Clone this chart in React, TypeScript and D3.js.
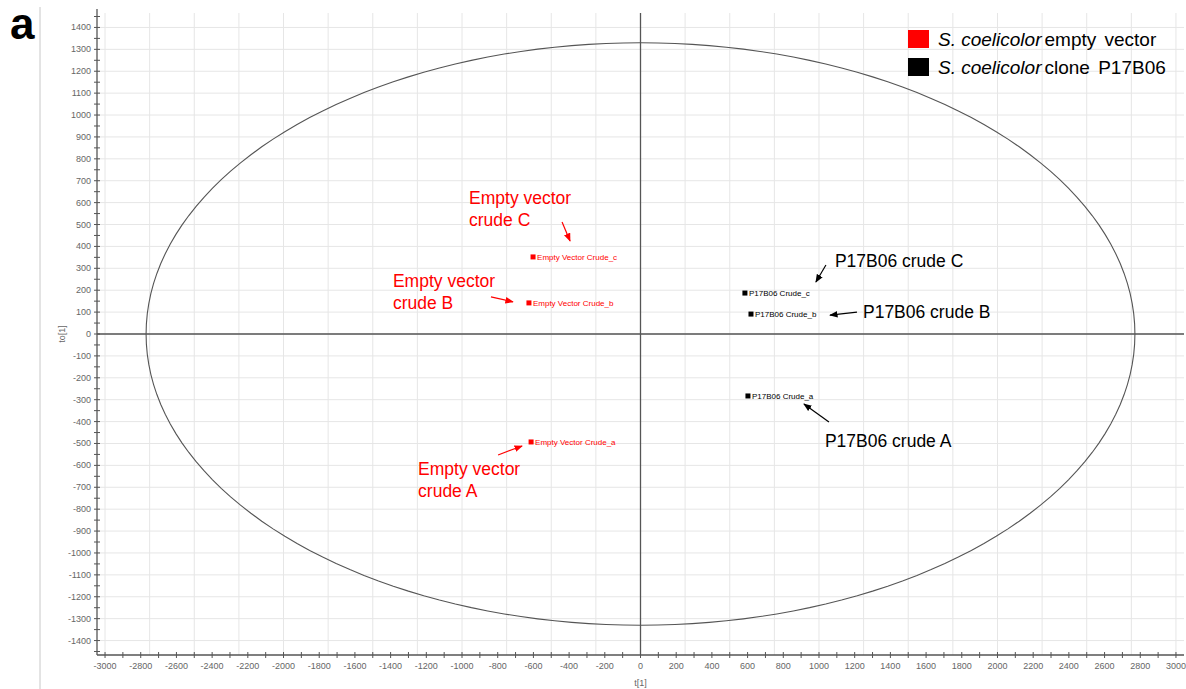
import React from "react";
import * as d3 from "d3";

// scores
const sampleNames = [
  "Empty Vector Crude_a",
  "Empty Vector Crude_b",
  "Empty Vector Crude_c",
  "P17B06 Crude_a",
  "P17B06 Crude_b",
  "P17B06 Crude_c",
];
const t1 = [-613, -625, -602, 602, 619, 585];
const to1 = [-493, 142, 352, -283, 91, 187];
const sampleGroup = [0, 0, 0, 1, 1, 1];

const groupNames = ["empty vector", "clone P17B06"];
const groupColors = ["#ff0000", "#000000"];

const calloutLines = [
  ["Empty vector", "crude A"],
  ["Empty vector", "crude B"],
  ["Empty vector", "crude C"],
  ["P17B06 crude A"],
  ["P17B06 crude B"],
  ["P17B06 crude C"],
];

// Hotelling T2 ellipse half-axes
const ellipseA = 2770;
const ellipseB = 1330;

const xLabelTicks = d3.range(-3000, 3001, 200);
const xMinorTicks = d3.range(-3000, 3001, 100);
const xGrid = d3.range(-3000, 3001, 250);
const yLabelTicks = d3.range(-1400, 1401, 100);
const yMinorTicks = d3.range(-1450, 1451, 50);

// callout placement relative to the marker (px): text, arrow start, arrow end
const calloutLayout = [
  { dx: -113, dy: 33, ax: -33, ay: 13, bx: -9, by: 4 },
  { dx: -136, dy: -16, ax: -38, ay: -6, bx: -16, by: -1 },
  { dx: -64, dy: -53, ax: 29, ay: -35, bx: 37, by: -16 },
  { dx: 77, dy: 51, ax: 81, ay: 26, bx: 56, by: 8 },
  { dx: 112, dy: 4, ax: 106, ay: -2, bx: 79, by: 1 },
  { dx: 90, dy: -26, ax: 81, ay: -28, bx: 71, by: -11 },
];

const W = 1186;
const H = 689;
const left = 97;
const right = 1184;
const top = 13;
const bottom = 655;

export default function App() {
  const x = d3.scaleLinear().domain([-3045, 3045]).range([left, right]);
  const y = d3.scaleLinear().domain([-1466, 1466]).range([bottom, top]);

  const ellipsePts = d3.range(0, 361, 2).map((a) => {
    const r = (a * Math.PI) / 180;
    return [x(ellipseA * Math.cos(r)), y(ellipseB * Math.sin(r))] as [number, number];
  });
  const ellipsePath = d3.line()(ellipsePts) || "";

  const font = "Arial, 'Liberation Sans', sans-serif";
  const tickColor = "#666";

  return (
    <svg
      width={W}
      height={H}
      style={{ position: "absolute", left: 0, top: 0, background: "#fff" }}
      fontFamily={font}
    >
      <defs>
        {groupColors.map((c, i) => (
          <marker
            key={i}
            id={`arrow${i}`}
            viewBox="0 0 10 10"
            refX="9"
            refY="5"
            markerWidth="7"
            markerHeight="7"
            orient="auto"
          >
            <path d="M0,1 L10,5 L0,9 z" fill={c} />
          </marker>
        ))}
      </defs>

      {/* panel letter and frame line */}
      <text x={10} y={39} fontSize={44} fontWeight="bold" fill="#000">
        a
      </text>
      <line x1={40} x2={40} y1={7} y2={H} stroke="#c8c8c8" strokeWidth={1} />

      {/* grid */}
      {yLabelTicks.map((v) => (
        <line key={"hg" + v} x1={left} x2={right} y1={y(v)} y2={y(v)} stroke="#e6e6e6" />
      ))}
      {xGrid.map((v) => (
        <line key={"vg" + v} x1={x(v)} x2={x(v)} y1={top} y2={bottom} stroke="#e6e6e6" />
      ))}

      {/* zero lines */}
      <line x1={left} x2={right} y1={y(0)} y2={y(0)} stroke="#555" strokeWidth={1.3} />
      <line x1={x(0)} x2={x(0)} y1={top} y2={bottom} stroke="#555" strokeWidth={1.3} />

      {/* ellipse */}
      <path d={ellipsePath} fill="none" stroke="#555" strokeWidth={1.1} />

      {/* axes */}
      <line x1={left} x2={left} y1={top - 4} y2={bottom} stroke="#555" strokeWidth={1.3} />
      <line x1={left} x2={right} y1={bottom} y2={bottom} stroke="#555" strokeWidth={1.3} />
      {yMinorTicks.map((v) => (
        <line key={"yt" + v} x1={left - 3} x2={left + 3} y1={y(v)} y2={y(v)} stroke="#555" />
      ))}
      {yLabelTicks.map((v) => (
        <text
          key={"yl" + v}
          x={left - 6}
          y={y(v) + 3}
          fontSize={9}
          textAnchor="end"
          fill={tickColor}
        >
          {v}
        </text>
      ))}
      {xMinorTicks.map((v) => (
        <line key={"xt" + v} x1={x(v)} x2={x(v)} y1={bottom - 3} y2={bottom + 3} stroke="#555" />
      ))}
      {xLabelTicks.map((v) => (
        <text
          key={"xl" + v}
          x={x(v)}
          y={bottom + 14}
          fontSize={9}
          textAnchor="middle"
          fill={tickColor}
        >
          {v}
        </text>
      ))}
      <text x={x(0)} y={686} fontSize={9} textAnchor="middle" fill={tickColor}>
        t[1]
      </text>
      <text
        transform={`translate(65,${y(0)}) rotate(-90)`}
        fontSize={9}
        textAnchor="middle"
        fill={tickColor}
      >
        to[1]
      </text>

      {/* points */}
      {sampleNames.map((name, i) => {
        const px = x(t1[i]);
        const py = y(to1[i]);
        const c = groupColors[sampleGroup[i]];
        return (
          <g key={name}>
            <rect x={px - 2.5} y={py - 2.5} width={5} height={5} fill={c} />
            <text x={px + 4} y={py + 3} fontSize={8} fill={c}>
              {name}
            </text>
          </g>
        );
      })}

      {/* callouts */}
      {calloutLines.map((lines, i) => {
        const px = x(t1[i]);
        const py = y(to1[i]);
        const g = sampleGroup[i];
        const c = groupColors[g];
        const l = calloutLayout[i];
        return (
          <g key={"co" + i}>
            {lines.map((s, j) => (
              <text key={j} x={px + l.dx} y={py + l.dy + j * 22} fontSize={17.5} fill={c}>
                {s}
              </text>
            ))}
            <line
              x1={px + l.ax}
              y1={py + l.ay}
              x2={px + l.bx}
              y2={py + l.by}
              stroke={c}
              strokeWidth={1.2}
              markerEnd={`url(#arrow${g})`}
            />
          </g>
        );
      })}

      {/* legend */}
      {groupNames.map((n, i) => (
        <g key={n} transform={`translate(908,${30 + i * 28})`}>
          <rect width={21} height={18} fill={groupColors[i]} />
          <text x={30} y={16} fontSize={19} fill="#000">
            <tspan fontStyle="italic">S. coelicolor</tspan>
            <tspan dx={3} wordSpacing={3}>{n}</tspan>
          </text>
        </g>
      ))}
    </svg>
  );
}
